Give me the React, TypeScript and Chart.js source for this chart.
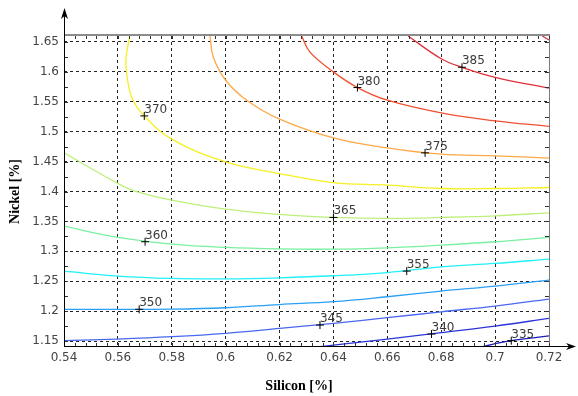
import React, { useEffect, useRef } from "react";
import { Chart, registerables } from "chart.js";

Chart.register(...registerables);

// ---- data ----
const xTicks = [0.54, 0.56, 0.58, 0.6, 0.62, 0.64, 0.66, 0.68, 0.7, 0.72];
const xTickLabels = ["0.54", "0.56", "0.58", "0.6", "0.62", "0.64", "0.66", "0.68", "0.7", "0.72"];
const yTicks = [1.15, 1.2, 1.25, 1.3, 1.35, 1.4, 1.45, 1.5, 1.55, 1.6, 1.65];
const yTickLabels = ["1.15", "1.2", "1.25", "1.3", "1.35", "1.4", "1.45", "1.5", "1.55", "1.6", "1.65"];

const level335 = [[0.695, 1.14], [0.7, 1.1455], [0.706, 1.1505], [0.72, 1.1585]];
const level340 = [[0.634, 1.14], [0.64, 1.1432], [0.66, 1.1533], [0.68, 1.1639], [0.7, 1.175], [0.72, 1.1879]];
const level345 = [[0.54, 1.1506], [0.56, 1.1533], [0.58, 1.1572], [0.6, 1.1628], [0.62, 1.171], [0.64, 1.1796], [0.66, 1.189], [0.68, 1.1989], [0.7, 1.2085], [0.72, 1.2201]];
const level350 = [[0.54, 1.203], [0.56, 1.203], [0.58, 1.2032], [0.6, 1.2056], [0.62, 1.211], [0.64, 1.2157], [0.66, 1.224], [0.68, 1.2335], [0.7, 1.2419], [0.72, 1.2519]];
const level355 = [[0.54, 1.2669], [0.56, 1.2586], [0.58, 1.2547], [0.6, 1.254], [0.62, 1.2557], [0.64, 1.2591], [0.66, 1.2645], [0.68, 1.2741], [0.7, 1.2797], [0.72, 1.2869]];
const level360 = [[0.54, 1.342], [0.56, 1.3232], [0.58, 1.312], [0.6, 1.3065], [0.62, 1.304], [0.64, 1.3036], [0.66, 1.3059], [0.68, 1.3104], [0.7, 1.316], [0.72, 1.3233]];
const level365 = [[0.54, 1.4646], [0.56, 1.4135], [0.5663, 1.4006], [0.58, 1.3856], [0.6, 1.3705], [0.62, 1.3616], [0.64, 1.3566], [0.66, 1.355], [0.68, 1.3566], [0.7, 1.3593], [0.72, 1.3643]];
const level370 = [[0.5644, 1.66], [0.5632, 1.63], [0.563, 1.608], [0.5651, 1.558], [0.5698, 1.5264], [0.58, 1.4875], [0.6, 1.4495], [0.62, 1.43], [0.64, 1.415], [0.66, 1.4106], [0.68, 1.405], [0.7, 1.405], [0.72, 1.4067]];
const level375 = [[0.5942, 1.66], [0.5954, 1.625], [0.6, 1.586], [0.6078, 1.5526], [0.62, 1.521], [0.64, 1.4897], [0.66, 1.473], [0.68, 1.4624], [0.7, 1.4596], [0.72, 1.4557]];
const level380 = [[0.6282, 1.66], [0.6313, 1.633], [0.64, 1.6], [0.6489, 1.5738], [0.66, 1.5526], [0.68, 1.5314], [0.7, 1.518], [0.72, 1.509]];
const level385 = [[0.6677, 1.66], [0.68, 1.622], [0.6877, 1.6077], [0.7, 1.591], [0.72, 1.5727]];
const level390 = [[0.7175, 1.66], [0.72, 1.6535]];

const levels = [level335, level340, level345, level350, level355, level360, level365, level370, level375, level380, level385, level390];
const levelColors = ["#1a1ab4", "#2a35d8", "#4a68f0", "#2aa0f5", "#20f0f8", "#78f0a0", "#bdf07a", "#f5f020", "#ffa848", "#f25030", "#e0303a", "#e03040"];

const labelX = [0.706, 0.6764, 0.635, 0.5679, 0.6672, 0.5701, 0.64, 0.5698, 0.674, 0.6489, 0.6877];
const labelY = [1.1506, 1.1617, 1.1767, 1.203, 1.2669, 1.316, 1.3566, 1.5264, 1.4646, 1.5738, 1.6077];
const labelText = ["335", "340", "345", "350", "355", "360", "365", "370", "375", "380", "385"];

const xMinor = 0.004;
const yMinor = 0.025;

const decorPlugin = {
  id: "decor",
  afterDraw(chart: any) {
    const { ctx, chartArea, scales } = chart;
    const { left, right, top, bottom } = chartArea;
    const xs = scales.x;
    const ys = scales.y;
    ctx.save();
    // top border (gray)
    ctx.strokeStyle = "#8c8c8c";
    ctx.lineWidth = 2;
    ctx.beginPath();
    ctx.moveTo(left, top - 1);
    ctx.lineTo(right + 1, top - 1);
    ctx.stroke();
    // right border
    ctx.lineWidth = 1;
    ctx.strokeStyle = "#7a7a7a";
    ctx.beginPath();
    ctx.moveTo(Math.round(right) + 0.5, top - 1);
    ctx.lineTo(Math.round(right) + 0.5, bottom);
    ctx.stroke();
    // minor ticks
    ctx.strokeStyle = "#333";
    for (let v = 0.54; v <= 0.7201; v += xMinor) {
      const px = Math.round(xs.getPixelForValue(v)) + 0.5;
      ctx.beginPath();
      ctx.moveTo(px, bottom);
      ctx.lineTo(px, bottom - 4);
      ctx.moveTo(px, top);
      ctx.lineTo(px, top + 3);
      ctx.stroke();
    }
    for (let v = 1.15; v <= 1.6501; v += yMinor) {
      const py = Math.round(ys.getPixelForValue(v)) + 0.5;
      ctx.beginPath();
      ctx.moveTo(left, py);
      ctx.lineTo(left + 4, py);
      ctx.moveTo(right, py);
      ctx.lineTo(right - 4, py);
      ctx.stroke();
    }
    // axes with arrows
    ctx.strokeStyle = "#000";
    ctx.fillStyle = "#000";
    ctx.lineWidth = 1;
    const ax = Math.round(left) + 0.5;
    const ay = Math.round(bottom) - 0.5;
    ctx.beginPath();
    ctx.moveTo(ax, bottom);
    ctx.lineTo(ax, 14);
    ctx.moveTo(left, ay);
    ctx.lineTo(570, ay);
    ctx.stroke();
    ctx.beginPath();
    ctx.moveTo(ax, 8);
    ctx.lineTo(ax - 3.5, 19);
    ctx.lineTo(ax, 16);
    ctx.lineTo(ax + 3.5, 19);
    ctx.closePath();
    ctx.fill();
    ctx.beginPath();
    ctx.moveTo(576, ay);
    ctx.lineTo(566, ay - 3.5);
    ctx.lineTo(569, ay);
    ctx.lineTo(566, ay + 3.5);
    ctx.closePath();
    ctx.fill();
    // contour labels
    ctx.font = '12px "DejaVu Sans"';
    ctx.fillStyle = "#3a3a3a";
    ctx.textAlign = "left";
    ctx.textBaseline = "alphabetic";
    for (let i = 0; i < labelText.length; i++) {
      const px = xs.getPixelForValue(labelX[i]);
      const py = ys.getPixelForValue(labelY[i]);
      ctx.fillText(labelText[i], px, py - 3);
    }
    // axis titles
    ctx.fillStyle = "#000";
    ctx.font = 'bold 14px "Liberation Serif"';
    ctx.textAlign = "center";
    ctx.fillText("Silicon [%]", 299, 390);
    ctx.translate(19, (top + bottom) / 2);
    ctx.rotate(-Math.PI / 2);
    ctx.fillText("Nickel [%]", 0, 0);
    ctx.restore();
  },
};

export default function App() {
  const canvasRef = useRef<HTMLCanvasElement | null>(null);
  useEffect(() => {
    if (!canvasRef.current) return;
    const datasets: any[] = levels.map((pts, i) => ({
      label: "L" + i,
      data: pts.map(([x, y]) => ({ x, y })),
      showLine: true,
      borderColor: levelColors[i],
      backgroundColor: levelColors[i],
      borderWidth: 1.3,
      pointRadius: 0,
      tension: 0.4,
      fill: false,
      order: 1,
    }));
    datasets.push({
      label: "markers",
      data: labelX.map((x, i) => ({ x, y: labelY[i] })),
      showLine: false,
      pointStyle: "cross",
      pointRadius: 4,
      borderColor: "#000",
      backgroundColor: "#000",
      borderWidth: 1,
      order: 0,
    });
    const chart = new Chart(canvasRef.current, {
      type: "scatter",
      data: { datasets },
      options: {
        animation: false,
        responsive: false,
        devicePixelRatio: 1,
        layout: { padding: { top: 36, right: 29, left: 0, bottom: 0 } },
        plugins: { legend: { display: false }, tooltip: { enabled: false } },
        scales: {
          x: {
            type: "linear",
            min: 0.54,
            max: 0.72,
            afterBuildTicks: (s: any) => {
              s.ticks = xTicks.map((v) => ({ value: v }));
            },
            afterFit: (s: any) => {
              s.height = 49;
            },
            ticks: {
              callback: (_v: any, i: number) => xTickLabels[i],
              font: { family: "DejaVu Sans", size: 12 },
              color: "#444",
              padding: 4,
              maxRotation: 0,
              autoSkip: false,
            },
            grid: { color: "#222", lineWidth: 1, drawTicks: false },
            border: { display: false, dash: [3, 3] },
          },
          y: {
            type: "linear",
            min: 1.14,
            max: 1.66,
            afterBuildTicks: (s: any) => {
              s.ticks = yTicks.map((v) => ({ value: v }));
            },
            afterFit: (s: any) => {
              s.width = 64;
            },
            ticks: {
              callback: (_v: any, i: number) => yTickLabels[i],
              font: { family: "DejaVu Sans", size: 12 },
              color: "#444",
              padding: 5,
              autoSkip: false,
            },
            grid: { color: "#222", lineWidth: 1, drawTicks: false },
            border: { display: false, dash: [3, 3] },
          },
        },
      },
      plugins: [decorPlugin],
    } as any);
    return () => chart.destroy();
  }, []);
  return (
    <div style={{ position: "fixed", left: 0, top: 0, width: 578, height: 396, background: "#fff" }}>
      <canvas ref={canvasRef} width={578} height={396} style={{ display: "block" }} />
    </div>
  );
}
